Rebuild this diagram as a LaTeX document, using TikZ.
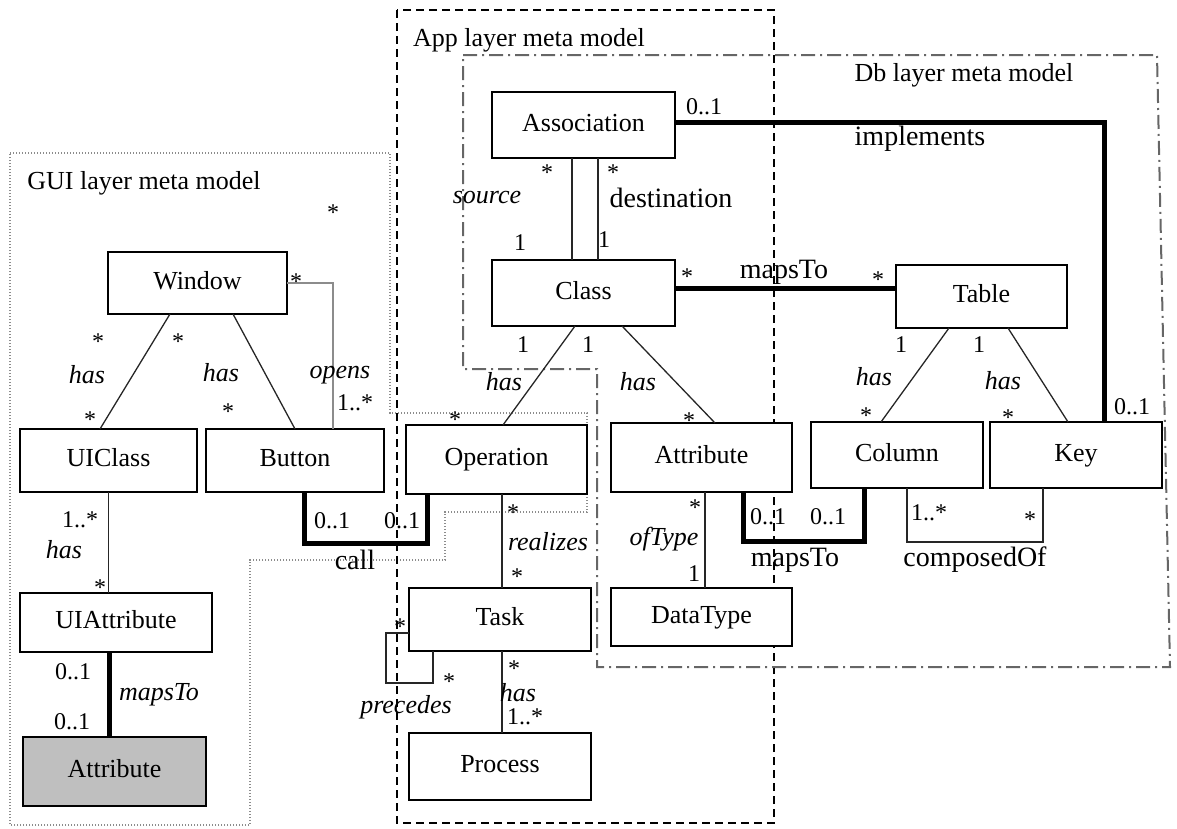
\documentclass[tikz,border=0pt]{standalone}
\usepackage{fontspec}
\setmainfont{Liberation Serif}
\usetikzlibrary{calc}
\newcommand\fcls{\fontsize{26}{30}\selectfont}
\newcommand\fmul{\fontsize{24}{28}\selectfont}
\newcommand\fital{\fontsize{26}{30}\selectfont\itshape}
\newcommand\fassoc{\fontsize{28}{32}\selectfont}
\begin{document}
\begin{tikzpicture}[x=1pt,y=-1pt,
  cls/.style={draw=black, line width=1.4pt, fill=white, inner sep=0pt, outer sep=0pt, font=\fcls, text height=18pt, text depth=5.6pt},
  mul/.style={inner sep=0pt, font=\fmul, text height=15pt, text depth=0pt},
  star/.style={mul, yshift=-5pt},
  ital/.style={inner sep=0pt, font=\fital, text height=16pt, text depth=0pt},
  asl/.style={inner sep=0pt, font=\fassoc, text height=17pt, text depth=0pt},
  ttl/.style={inner sep=0pt, font=\fcls, text height=16pt, text depth=0pt},
  ln/.style={draw=black!85, line width=1.3pt},
  opn/.style={draw=black!45, line width=1.4pt},
  thk/.style={draw=black, line width=5pt, line join=miter},
  gui/.style={draw=black!45, line width=1.3pt, dash pattern=on 1.2pt off 1.8pt},
  app/.style={draw=black, line width=1.3pt, dash pattern=on 8pt off 5pt},
  db/.style={draw=black!60, line width=2pt, dash pattern=on 14pt off 5pt on 2pt off 5pt}
]
\useasboundingbox (0,0) rectangle (1177,828);

% layers
\draw[gui] (10,153) -- (390,153) -- (390,413) -- (587,413) -- (587,512) -- (445,512) -- (445,560) -- (250,560) -- (250,825) -- (10,825) -- cycle;
\draw[app] (397,10) rectangle (774,823);
\draw[db] (463,55) -- (1157,55) -- (1170,667) -- (597,667) -- (597,369) -- (463,369) -- cycle;

\node[ttl] (tgui) at (144,181) {GUI layer meta model};
\node[ttl] (tapp) at (529,38) {App layer meta model};
\node[ttl] (tdb) at (964,73) {Db layer meta model};

% classes
\node[cls, minimum width=179pt, minimum height=62pt] (window) at (197.5,283) {Window};
\node[cls, minimum width=177pt, minimum height=63pt] (uiclass) at (108.5,460.5) {UIClass};
\node[cls, minimum width=178pt, minimum height=63pt] (button) at (295,460.5) {Button};
\node[cls, minimum width=192pt, minimum height=59pt] (uiattr) at (116,622.5) {UIAttribute};
\node[cls, fill=black!25, minimum width=183pt, minimum height=69pt] (gattr) at (114.5,771.5) {Attribute};
\node[cls, minimum width=183pt, minimum height=66pt] (assoc) at (583.5,125) {Association};
\node[cls, minimum width=183pt, minimum height=66pt] (class) at (583.5,293) {Class};
\node[cls, minimum width=181pt, minimum height=69pt] (oper) at (496.5,459.5) {Operation};
\node[cls, minimum width=181pt, minimum height=69pt] (appattr) at (701.5,457.5) {Attribute};
\node[cls, minimum width=182pt, minimum height=63pt] (task) at (500,619.5) {Task};
\node[cls, minimum width=182pt, minimum height=67pt] (process) at (500,766.5) {Process};
\node[cls, minimum width=181pt, minimum height=58pt] (datatype) at (701.5,617) {DataType};
\node[cls, minimum width=171pt, minimum height=63pt] (table) at (981.5,296.5) {Table};
\node[cls, minimum width=172pt, minimum height=66pt] (column) at (897,455) {Column};
\node[cls, minimum width=172pt, minimum height=66pt] (key) at (1076,455) {Key};

% connectors
\draw[ln] ([xshift=-27.5pt]window.south) -- ([xshift=-8.5pt]uiclass.north);
\draw[ln] ([xshift=35.5pt]window.south) -- (button.north);
\draw[opn] (window.east) -| ([xshift=38pt]button.north);
\draw[ln] (uiclass.south) -- (uiclass.south |- uiattr.north);
\draw[thk] ([xshift=-7pt]uiattr.south) -- ([xshift=-7pt]uiattr.south |- gattr.north);
\coordinate (callc) at (427,543);
\draw[thk] ([xshift=9pt]button.south) |- (callc) -- (callc |- oper.south);
\draw[ln] ([xshift=-11.5pt]assoc.south) -- ([xshift=-11.5pt]class.north);
\draw[ln] ([xshift=14.5pt]assoc.south) -- ([xshift=14.5pt]class.north);
\draw[thk] ([yshift=3pt]assoc.east) -| ([xshift=28pt]key.north);
\draw[thk] ([yshift=5pt]class.east) -- ([yshift=5pt]class.east -| table.west);
\draw[ln] ([xshift=-8.5pt]class.south) -- ([xshift=6.5pt]oper.north);
\draw[ln] ([xshift=38.5pt]class.south) -- ([xshift=13.5pt]appattr.north);
\draw[ln] ([xshift=5.5pt]oper.south) -- ([xshift=5.5pt]oper.south |- task.north);
\draw[ln] ([xshift=3.5pt]appattr.south) -- ([xshift=3.5pt]datatype.north);
\coordinate (m2) at (864,541);
\draw[thk] ([xshift=41.5pt]appattr.south) |- (m2) -- (m2 |- column.south);
\coordinate (c2) at (1043,542);
\draw[ln] ([xshift=10pt]column.south) |- (c2) -- (c2 |- key.south);
\draw[ln] ([xshift=-32.5pt]table.south) -- ([xshift=-16pt]column.north);
\draw[ln] ([xshift=26.5pt]table.south) -- ([xshift=-8pt]key.north);
\coordinate (lp) at (386,683);
\draw[ln] ([yshift=-13.5pt]task.west) -| (lp) -| ([xshift=-67pt]task.south);
\draw[ln] ([xshift=2pt]task.south) -- ([xshift=2pt]process.north);

% GUI labels
\node[star] (s0) at (333,208) {*};
\node[star] (s1) at (296,277) {*};
\node[star] (s2) at (98,337) {*};
\node[ital] (h1) at (87,375) {has};
\node[star] (s3) at (90,415) {*};
\node[star] (s4) at (178,337) {*};
\node[ital] (h2) at (221,373) {has};
\node[star] (s5) at (228,407) {*};
\node[ital] (op) at (340,370) {opens};
\node[mul] (m1) at (355,403) {1..*};
\node[mul] (m3) at (80,520) {1..*};
\node[ital] (h3) at (64,550) {has};
\node[star] (s6) at (100,583) {*};
\node[mul] (m4) at (73,672) {0..1};
\node[ital] (mt1) at (159,692) {mapsTo};
\node[mul] (m5) at (72,722) {0..1};
\node[mul] (m6) at (332,521) {0..1};
\node[mul] (m7) at (402,521) {0..1};
\node[asl] (call) at (355,561) {call};

% App labels
\node[mul] (m8) at (704,107) {0..1};
\node[star] (s7) at (547,168) {*};
\node[ital] (src) at (487,195) {source};
\node[mul] (one1) at (520,243) {1};
\node[star] (s8) at (613,168) {*};
\node[asl] (dst) at (671,199) {destination};
\node[mul] (one2) at (604,240) {1};
\node[star] (s9) at (687,272) {*};
\node[asl] (mt2) at (784,270) {mapsTo};
\node[star] (s10) at (878,275) {*};
\node[asl] (impl) at (920,137) {implements};
\node[mul] (one3) at (523,345) {1};
\node[mul] (one4) at (588,345) {1};
\node[ital] (h4) at (504,382) {has};
\node[star] (s11) at (455,415) {*};
\node[ital] (h5) at (638,382) {has};
\node[star] (s12) at (689,416) {*};
\node[star] (s13) at (513,508) {*};
\node[ital] (rl) at (548,542) {realizes};
\node[star] (s14) at (517,572) {*};
\node[star] (s15) at (695,503) {*};
\node[ital] (oft) at (664,537) {ofType};
\node[mul] (one5) at (694,574) {1};
\node[star] (s16) at (400,622) {*};
\node[star] (s17) at (449,677) {*};
\node[ital] (prec) at (406,705) {precedes};
\node[star] (s18) at (514,664) {*};
\node[ital] (h6) at (518,693) {has};
\node[mul] (m9) at (525,717) {1..*};

% Db labels
\node[mul] (m10) at (768,517) {0..1};
\node[mul] (m11) at (828,517) {0..1};
\node[asl] (mt3) at (795,558) {mapsTo};
\node[mul] (m12) at (929,513) {1..*};
\node[star] (s19) at (1030,515) {*};
\node[asl] (comp) at (975,558) {composedOf};
\node[mul] (one6) at (901,345) {1};
\node[mul] (one7) at (979,345) {1};
\node[ital] (h7) at (874,377) {has};
\node[star] (s20) at (866,411) {*};
\node[ital] (h8) at (1003,381) {has};
\node[star] (s21) at (1008,413) {*};
\node[mul] (m13) at (1132,407) {0..1};
\end{tikzpicture}
\end{document}
